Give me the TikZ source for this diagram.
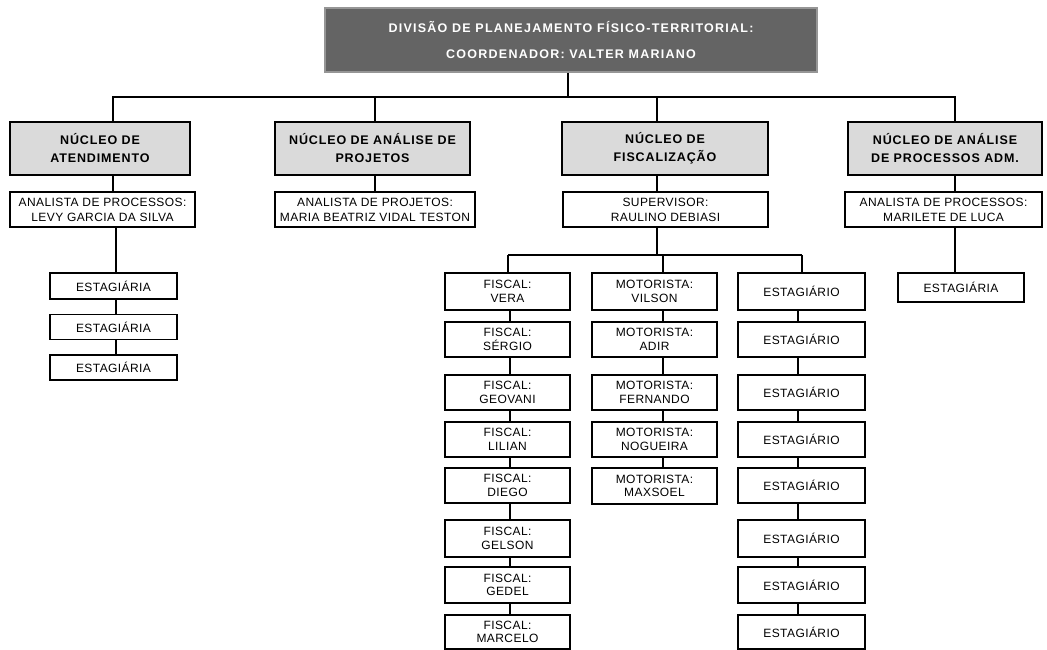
\documentclass[tikz,border=0pt]{standalone}
\usepackage{fontspec}
\setmainfont{Liberation Sans}
\newfontfamily\titlefont[LetterSpace=10]{Liberation Sans}
\newfontfamily\headfont[LetterSpace=7]{Liberation Sans}
\newfontfamily\bodyfont[LetterSpace=3.5]{Liberation Sans}
\definecolor{topfill}{RGB}{100,100,100}
\definecolor{topedge}{RGB}{150,150,150}
\definecolor{headfill}{RGB}{218,218,218}
\begin{document}
\begin{tikzpicture}[x=1pt,y=-1pt,
  link/.style={line width=1.5pt,black},
  basebox/.style={draw=black,line width=1.6pt,fill=white,inner sep=0pt,align=center},
  topbox/.style={basebox,draw=topedge,line width=2pt,fill=topfill,text=white,
    font=\titlefont\bfseries\fontsize{12.5}{26}\selectfont},
  headbox/.style={basebox,fill=headfill,font=\headfont\bfseries\fontsize{12.5}{18}\selectfont},
  subbox/.style={basebox,font=\bodyfont\fontsize{12}{15}\selectfont},
  staffbox/.style={basebox,font=\bodyfont\fontsize{12}{13.5}\selectfont}]
\useasboundingbox (0,0) rectangle (1047,650);

% top level
\node[topbox,minimum width=492,minimum height=64] (top) at (571,40)
  {DIVISÃO DE PLANEJAMENTO FÍSICO-TERRITORIAL:\\COORDENADOR: VALTER MARIANO};

% the four units
\node[headbox,minimum width=180,minimum height=53] (n1) at (100,148.5) {NÚCLEO DE\\ATENDIMENTO};
\node[headbox,minimum width=195,minimum height=53] (n2) at (372.5,148.5) {NÚCLEO DE ANÁLISE DE\\PROJETOS};
\node[headbox,minimum width=206,minimum height=53] (n3) at (665,148.5) {NÚCLEO DE\\FISCALIZAÇÃO};
\node[headbox,minimum width=194,minimum height=53] (n4) at (945,148.5) {NÚCLEO DE ANÁLISE\\DE PROCESSOS ADM.};

% unit leaders
\node[subbox,minimum width=185,minimum height=35] (s1) at (102.5,209.5) {ANALISTA DE PROCESSOS:\\LEVY GARCIA DA SILVA};
\node[subbox,minimum width=200,minimum height=35] (s2) at (375,209.5) {ANALISTA DE PROJETOS:\\MARIA BEATRIZ VIDAL TESTON};
\node[subbox,minimum width=205,minimum height=35] (s3) at (665.5,209.5) {SUPERVISOR:\\RAULINO DEBIASI};
\node[subbox,minimum width=197,minimum height=35] (s4) at (943.5,209.5) {ANALISTA DE PROCESSOS:\\MARILETE DE LUCA};

% bus under the top box
\coordinate (tb) at (568,97);
\coordinate (b1) at (113,97);
\coordinate (b2) at (375,97);
\coordinate (b3) at (657,97);
\coordinate (b4) at (955,97);
\draw[link] (top.south -| tb) -- (tb);
\draw[link] (b1 |- n1.north) -- (b1) -- (b4) -- (b4 |- n4.north);
\draw[link] (b2) -- (b2 |- n2.north);
\draw[link] (b3) -- (b3 |- n3.north);
\draw[link] (b1 |- n1.south) -- (b1 |- s1.north);
\draw[link] (b2 |- n2.south) -- (b2 |- s2.north);
\draw[link] (b3 |- n3.south) -- (b3 |- s3.north);
\draw[link] (b4 |- n4.south) -- (b4 |- s4.north);

% Atendimento interns
\node[staffbox,minimum width=127,minimum height=26] (a1) at (113.5,286) {ESTAGIÁRIA};
\node[staffbox,minimum width=127,minimum height=25] (a2) at (113.5,327) {ESTAGIÁRIA};
\node[staffbox,minimum width=127,minimum height=25] (a3) at (113.5,367.5) {ESTAGIÁRIA};
\coordinate (la) at (116,0);
\draw[link] (la |- s1.south) -- (la |- a1.north);
\draw[link] (la |- a1.south) -- (la |- a2.north);
\draw[link] (la |- a2.south) -- (la |- a3.north);

% Processos Adm. intern
\node[staffbox,minimum width=126,minimum height=29] (p1) at (961,287.5) {ESTAGIÁRIA};
\draw[link] (b4 |- s4.south) -- (b4 |- p1.north);

% Fiscalização team
\coordinate (fb) at (663,255);
\coordinate (fl) at (508,255);
\coordinate (fr) at (802,255);
\draw[link] (b3 |- s3.south) -- (b3 |- fb) -- (fb);
\draw[link] (fl) -- (fr);

\foreach \nm/\y/\h in {1/291.5/37,2/339.5/35,3/392.5/35,4/439.5/35,5/485.5/35,6/538.5/37,7/585/36,8/632/34}{
  \node[staffbox,minimum width=127,minimum height=\h] (e\nm) at (801.5,\y) {ESTAGIÁRIO};
}
\foreach \nm/\y/\h/\who in {1/291.5/37/VERA,2/339.5/35/SÉRGIO,3/392.5/35/GEOVANI,4/439.5/35/LILIAN,
  5/485.5/35/DIEGO,6/538.5/37/GELSON,7/585/36/GEDEL,8/632/34/MARCELO}{
  \node[staffbox,minimum width=125,minimum height=\h] (f\nm) at (507.5,\y) {FISCAL:\\\who};
}
\foreach \nm/\y/\h/\who in {1/291.5/37/VILSON,2/339.5/35/ADIR,3/392.5/35/FERNANDO,4/439.5/35/NOGUEIRA,
  5/486/36/MAXSOEL}{
  \node[staffbox,minimum width=125,minimum height=\h] (m\nm) at (654.5,\y) {MOTORISTA:\\\who};
}

\coordinate (cf) at (510,0);
\coordinate (cm) at (663,0);
\coordinate (ce) at (798,0);
\draw[link] (fl) -- (fl |- f1.north);
\draw[link] (fb) -- (cm |- m1.north);
\draw[link] (fr) -- (fr |- e1.north);
\foreach \a/\b in {1/2,2/3,3/4,4/5,5/6,6/7,7/8}{
  \draw[link] (cf |- f\a.south) -- (cf |- f\b.north);
  \draw[link] (ce |- e\a.south) -- (ce |- e\b.north);
}
\foreach \a/\b in {1/2,2/3,3/4,4/5}{
  \draw[link] (cm |- m\a.south) -- (cm |- m\b.north);
}
\end{tikzpicture}
\end{document}
